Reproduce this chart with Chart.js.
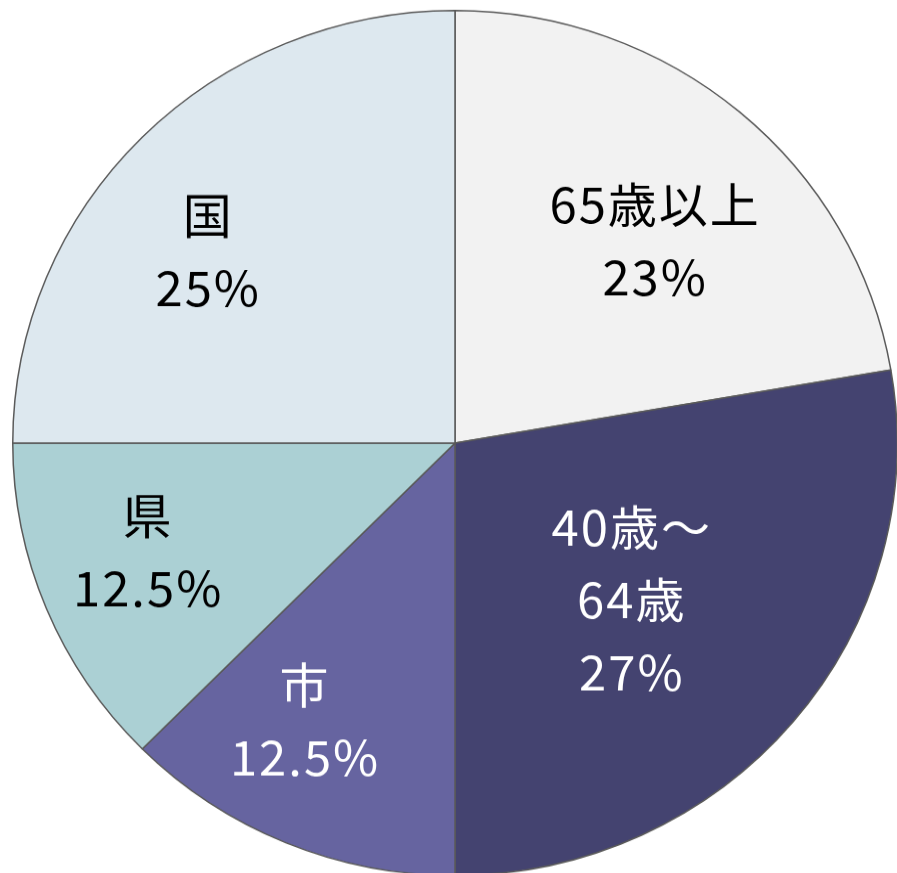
<!DOCTYPE html>
<html>
<head>
<meta charset="utf-8">
<script src="https://cdn.jsdelivr.net/npm/chart.js@4.4.1/dist/chart.umd.min.js"></script>
<style>
  html, body { margin: 0; padding: 0; background: #ffffff; overflow: hidden; }
  #wrap { width: 897px; height: 873px; overflow: hidden; position: relative; }
  /* the reference pie is slightly squashed vertically */
  #myChart { position: absolute; left: 0; top: 0; width: 900px; height: 906px;
             transform: scaleY(0.978); transform-origin: 0 0; }
</style>
</head>
<body>
<div id="wrap"><canvas id="myChart" width="900" height="906"></canvas></div>
<script>
// datos del grafico
var categorias = ["65歳以上", "40歳～64歳", "市", "県", "国"];
var valores = [22.3, 27.7, 12.5, 12.5, 25];
// etiquetas tal como aparecen en la imagen
var etiquetas = [
    ["65歳以上", "23%"],
    ["40歳～", "64歳", "27%"],
    ["市", "12.5%"],
    ["県", "12.5%"],
    ["国", "25%"]
];

var colores = ['#f2f2f2', '#444370', '#6664a0', '#abd0d4', '#dde8ef'];
var coloresTexto = ['#000000', '#ffffff', '#ffffff', '#000000', '#000000'];
var distEtiqueta = [0.651, 0.54, 0.727, 0.738, 0.712]; // fraccion del radio
var giroEtiqueta = [3.9, 2.1, 5.3, 2.6, -6.6];         // grados respecto al centro del sector

// plugin para escribir las etiquetas dentro de cada sector
var pluginEtiquetas = {
    id: 'etiquetas',
    afterDatasetsDraw: function (chart) {
        var ctx = chart.ctx;
        var meta = chart.getDatasetMeta(0);
        ctx.save();
        ctx.font = '49px "Noto Sans CJK JP", "Noto Sans", sans-serif';
        ctx.letterSpacing = '2px';
        ctx.textAlign = 'center';
        ctx.textBaseline = 'middle';
        meta.data.forEach(function (arc, i) {
            var p = arc.getProps(['x', 'y', 'startAngle', 'endAngle', 'outerRadius'], true);
            var ang = (p.startAngle + p.endAngle) / 2 + giroEtiqueta[i] * Math.PI / 180;
            var r = p.outerRadius * distEtiqueta[i];
            var cx = p.x + Math.cos(ang) * r;
            var cy = p.y + Math.sin(ang) * r;
            var lineas = etiquetas[i];
            var alto = 74;
            var y0 = cy - (lineas.length - 1) * alto / 2;
            ctx.fillStyle = coloresTexto[i];
            for (var k = 0; k < lineas.length; k++) {
                ctx.fillText(lineas[k], cx, y0 + k * alto);
            }
        });
        ctx.restore();
    }
};

var graphTarget = document.getElementById('myChart');
var pieGraph = new Chart(graphTarget, {
    type: 'pie',
    data: {
        labels: categorias,
        datasets: [{
            data: valores,
            backgroundColor: colores,
            borderColor: '#5a5a5a',
            borderWidth: 1.5
        }]
    },
    options: {
        responsive: false,
        animation: false,
        layout: { padding: { left: 12, right: 2, top: 10, bottom: 10 } },
        plugins: {
            legend: { display: false },
            tooltip: { enabled: false }
        }
    },
    plugins: [pluginEtiquetas]
});
</script>
</body>
</html>
